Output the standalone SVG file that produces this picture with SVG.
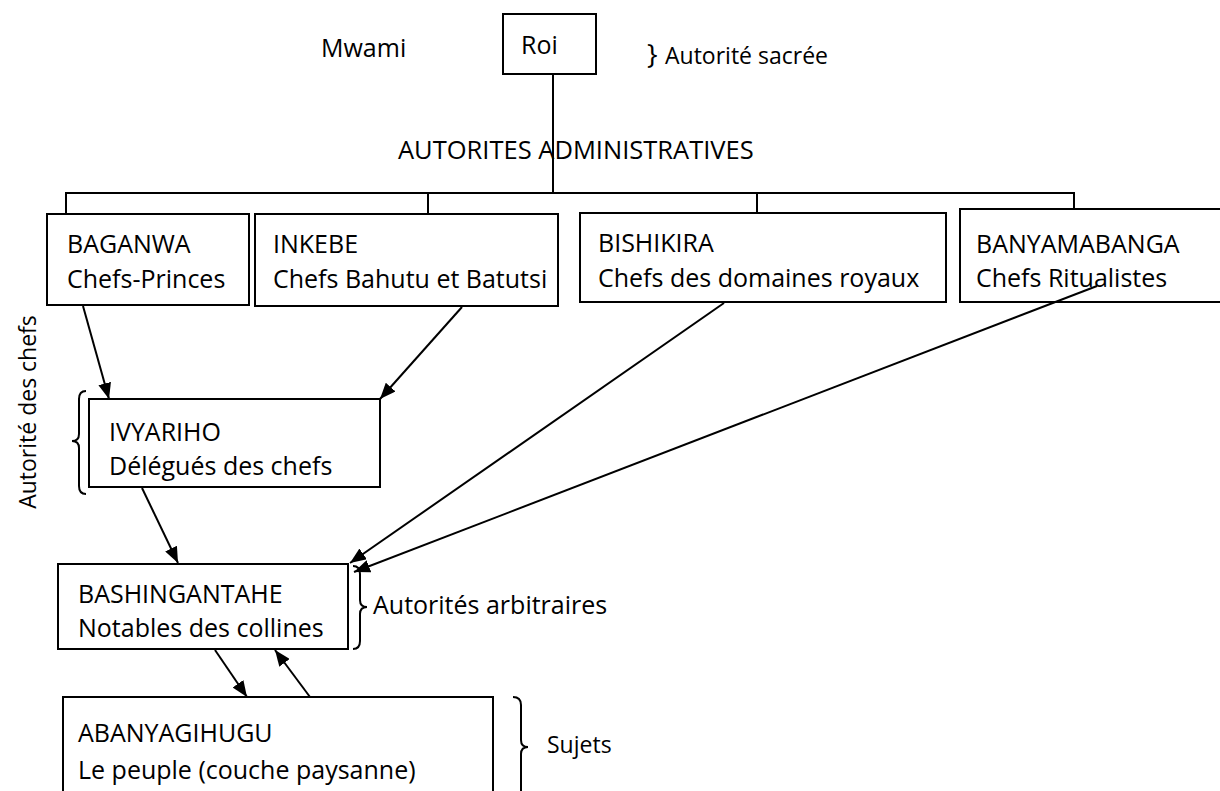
<svg xmlns="http://www.w3.org/2000/svg" width="1220" height="791" viewBox="0 0 1220 791">
<style>
text{font-family:"Open Sans","Liberation Sans",sans-serif;fill:#000}
.box{fill:#fff;stroke:#000;stroke-width:2}
.t{font-size:25px}
.ln{stroke:#000;stroke-width:2;fill:none}
.br{stroke:#000;stroke-width:2;fill:none}
</style>
<defs>
<marker id="ah" viewBox="0 0 16 13" refX="16" refY="6.5" markerWidth="16" markerHeight="13" orient="auto" markerUnits="userSpaceOnUse"><path d="M0,0 L16,6.5 L0,13 z" fill="#000"/></marker>
</defs>
<rect width="1220" height="791" fill="#fff"/>

<g id="roi">
<rect class="box" x="503" y="14" width="93" height="60"/>
<text class="t" x="521" y="54">Roi</text>
</g>
<g id="mwami"><text class="t" x="321" y="57">Mwami</text></g>
<g id="sacree">
<text x="647" y="64" font-size="28">}</text>
<text x="665" y="64" font-size="23">Autorité sacrée</text>
</g>
<g id="admin"><text x="398" y="159" font-size="25.5">AUTORITES ADMINISTRATIVES</text></g>

<g id="baganwa">
<rect class="box" x="47" y="214" width="202" height="91"/>
<text class="t" x="67" y="253">BAGANWA</text>
<text class="t" x="67" y="288">Chefs-Princes</text>
</g>
<g id="inkebe">
<rect class="box" x="255" y="214" width="303" height="92"/>
<text class="t" x="273" y="253">INKEBE</text>
<text class="t" x="273" y="288">Chefs Bahutu et Batutsi</text>
</g>
<g id="bishikira">
<rect class="box" x="580" y="213" width="366" height="89"/>
<text class="t" x="598" y="252">BISHIKIRA</text>
<text class="t" x="598" y="287">Chefs des domaines royaux</text>
</g>
<g id="banyamabanga">
<rect class="box" x="960" y="209" width="262" height="93"/>
<text class="t" x="976" y="253">BANYAMABANGA</text>
<text class="t" x="976" y="287">Chefs Ritualistes</text>
</g>

<g id="ivyariho">
<rect class="box" x="89" y="399" width="291" height="88"/>
<text class="t" x="109" y="441">IVYARIHO</text>
<text class="t" x="109" y="475">Délégués des chefs</text>
</g>
<g id="chefs-label">
<path class="br" d="M86,391 Q79,391 79,399 L79,434 Q79,441 72,441 Q79,441 79,448 L79,486 Q79,494 86,494"/>
<text transform="translate(36,412) rotate(-90)" text-anchor="middle" font-size="23">Autorité des chefs</text>
</g>

<g id="bashingantahe">
<rect class="box" x="58" y="564" width="290" height="85"/>
<text class="t" x="78" y="603">BASHINGANTAHE</text>
<text class="t" x="78" y="637">Notables des collines</text>
</g>
<g id="arbitraires-label">
<path class="br" d="M353,566 Q360,566 360,574 L360,600 Q360,607 367,607 Q360,607 360,614 L360,641 Q360,649 353,649"/>
<text x="373" y="614" font-size="25">Autorités arbitraires</text>
</g>

<g id="abanyagihugu">
<rect class="box" x="63" y="697" width="430" height="110"/>
<text class="t" x="78" y="742">ABANYAGIHUGU</text>
<text class="t" x="78" y="779">Le peuple (couche paysanne)</text>
</g>
<g id="sujets-label">
<path class="br" d="M513,697 Q521,697 521,705 L521,740 Q521,747 528,747 Q521,747 521,754 L521,795"/>
<text x="547" y="753" font-size="23">Sujets</text>
</g>

<g id="connectors">
<line class="ln" x1="553" y1="74" x2="553" y2="86" stroke-width="3"/>
<line class="ln" x1="553" y1="86" x2="553" y2="193" stroke-width="1"/>
<path class="ln" d="M66,213 V193 H1074 V208" stroke-width="3"/>
<line class="ln" x1="428" y1="193" x2="428" y2="213"/>
<line class="ln" x1="757" y1="193" x2="757" y2="212"/>
<line class="ln" x1="83" y1="306" x2="109" y2="399" marker-end="url(#ah)"/>
<line class="ln" x1="462" y1="307" x2="380" y2="399" marker-end="url(#ah)"/>
<line class="ln" x1="724" y1="303" x2="350" y2="563" marker-end="url(#ah)"/>
<line class="ln" x1="1097" y1="286" x2="354" y2="572" marker-end="url(#ah)"/>
<line class="ln" x1="142" y1="488" x2="178" y2="563" marker-end="url(#ah)"/>
<line class="ln" x1="215" y1="650" x2="247" y2="697" marker-end="url(#ah)"/>
<line class="ln" x1="310" y1="697" x2="275" y2="650" marker-end="url(#ah)"/>
</g>
</svg>
